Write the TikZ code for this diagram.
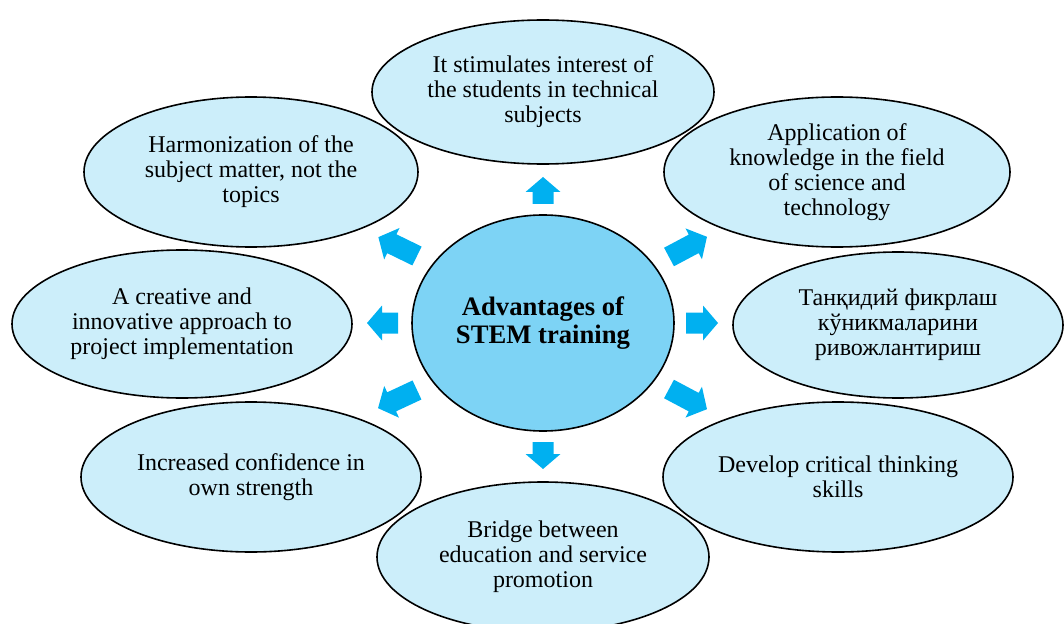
\documentclass[tikz,border=0pt]{standalone}
\usepackage{fontspec}
\setmainfont{Liberation Serif}
\usetikzlibrary{shapes.geometric}
\definecolor{outerfill}{HTML}{CCEEFA}
\definecolor{centerfill}{HTML}{7DD3F5}
\definecolor{arrowblue}{HTML}{00B0F0}
\newcommand\blockarrow[4]{% x, y, angle, length
  \fill[arrowblue, shift={(#1,#2)}, rotate=#3]
    (0,-10.5) -- ({#4-15},-10.5) -- ({#4-15},-17.5) -- (#4,0) --
    ({#4-15},17.5) -- ({#4-15},10.5) -- (0,10.5) -- cycle;}
\begin{document}
\begin{tikzpicture}[x=0.75pt,y=-0.75pt,
  bubble/.style={ellipse, draw=black, line width=1.2pt, fill=outerfill,
    inner sep=-30pt, align=center, font=\fontsize{18}{18.75}\selectfont},
  hub/.style={ellipse, draw=black, line width=1.2pt, fill=centerfill,
    inner sep=-30pt, align=center, font=\fontsize{20}{21}\selectfont\bfseries}]
\useasboundingbox (0,0) rectangle (1064,624);

\node[hub, minimum width=196.5pt, minimum height=162pt] (c) at (543,323)
  {Advantages of\\STEM training};

\node[bubble, minimum width=256.5pt, minimum height=108pt] (t) at (543,92)
  {It stimulates interest of\\the students in technical\\subjects};
\node[bubble, minimum width=250.5pt, minimum height=112.5pt] (tl) at (251,172)
  {Harmonization of the\\subject matter, not the\\topics};
\node[bubble, minimum width=259.5pt, minimum height=112.5pt] (tr) at (837,172)
  {Application of\\knowledge in the field\\of science and\\technology};
\node[bubble, minimum width=255pt, minimum height=111pt] (l) at (182,324)
  {A creative and\\innovative approach to\\project implementation};
\node[bubble, minimum width=247.5pt, minimum height=109.5pt] (r) at (898,325)
  {Танқидий фикрлаш\\кўникмаларини\\ривожлантириш};
\node[bubble, minimum width=255pt, minimum height=112.5pt] (bl) at (251,477)
  {Increased confidence in\\own strength};
\node[bubble, minimum width=262.5pt, minimum height=112.5pt] (br) at (838,477)
  {Develop critical thinking\\skills};
\node[bubble, minimum width=249pt, minimum height=112.5pt] (b) at (543,557)
  {Bridge between\\education and service\\promotion};

% block arrows (tail x, tail y, angle, length)
\blockarrow{543}{204}{90}{27}
\blockarrow{543}{442}{-90}{27}
\blockarrow{398}{323}{180}{31}
\blockarrow{686}{323}{0}{32}
\blockarrow{417}{256}{154}{43}
\blockarrow{669}{257}{28}{43}
\blockarrow{417}{390}{205}{43}
\blockarrow{669}{389}{-28}{43}
\end{tikzpicture}
\end{document}
